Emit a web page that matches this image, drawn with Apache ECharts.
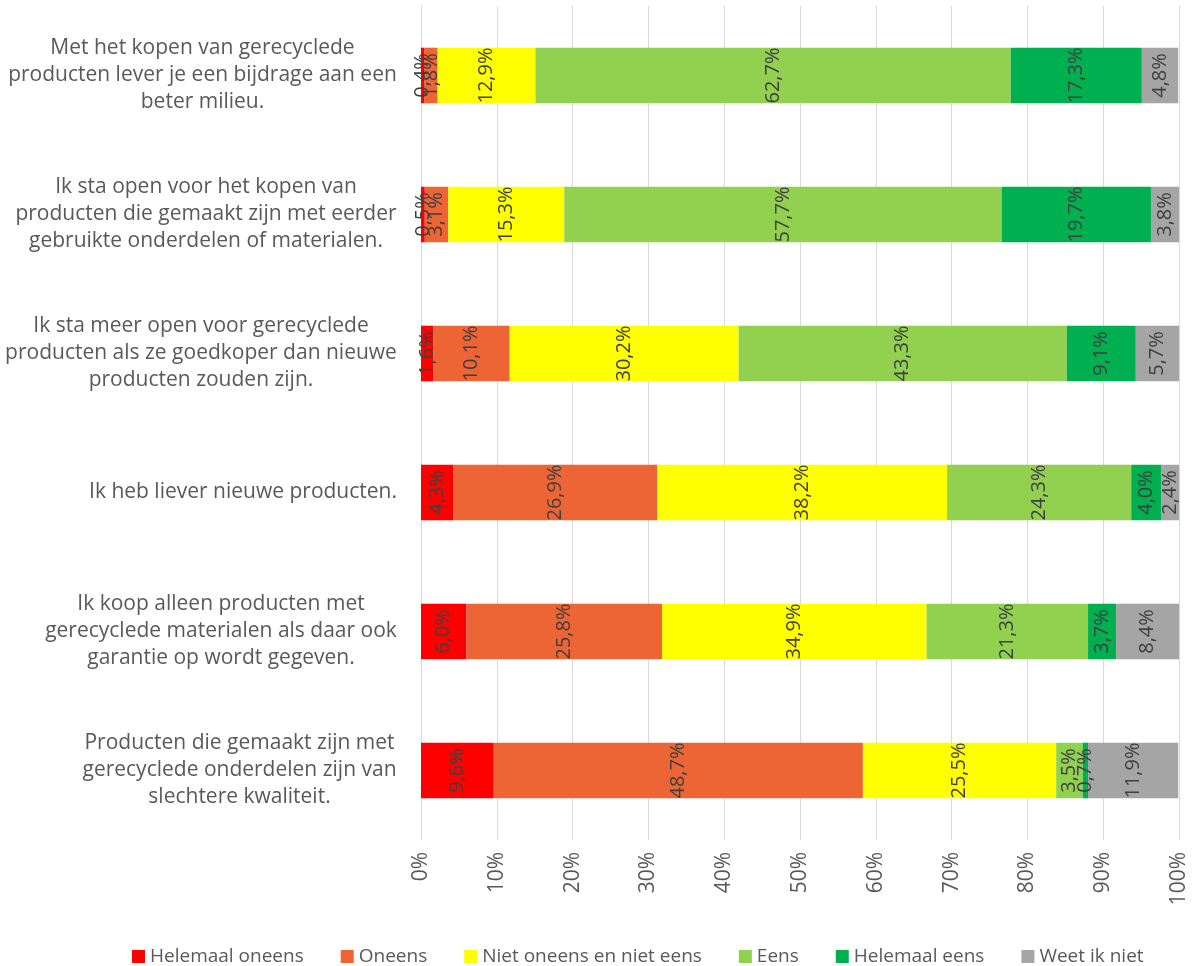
<!DOCTYPE html>
<html><head><meta charset="utf-8">
<script src="https://cdn.jsdelivr.net/npm/echarts@6/dist/echarts.min.js"></script>
<style>html,body{margin:0;padding:0;background:#fff}#c{width:1196px;height:966px}</style>
</head><body><div id="c"></div>
<script>
const categories = [
  "Met het kopen van gerecyclede\nproducten lever je een bijdrage aan een\nbeter milieu.",
  "Ik sta open voor het kopen van\nproducten die gemaakt zijn met eerder\ngebruikte onderdelen of materialen.",
  "Ik sta meer open voor gerecyclede\nproducten als ze goedkoper dan nieuwe\nproducten zouden zijn.",
  "Ik heb liever nieuwe producten.",
  "Ik koop alleen producten met\ngerecyclede materialen als daar ook\ngarantie op wordt gegeven.",
  "Producten die gemaakt zijn met\ngerecyclede onderdelen zijn van\nslechtere kwaliteit."
];
const seriesNames = ["Helemaal oneens","Oneens","Niet oneens en niet eens","Eens","Helemaal eens","Weet ik niet"];
const helemaalOneens = [0.4, 0.5, 1.6, 4.3, 6.0, 9.6];
const oneens = [1.8, 3.1, 10.1, 26.9, 25.8, 48.7];
const neutraal = [12.9, 15.3, 30.2, 38.2, 34.9, 25.5];
const eens = [62.7, 57.7, 43.3, 24.3, 21.3, 3.5];
const helemaalEens = [17.3, 19.7, 9.1, 4.0, 3.7, 0.7];
const weetNiet = [4.8, 3.8, 5.7, 2.4, 8.4, 11.9];
const tickLabels = ["0%","10%","20%","30%","40%","50%","60%","70%","80%","90%","100%"];
const colors = ["#FF0000","#ED6435","#FFFF00","#92D050","#00B050","#A5A5A5"];

const allData = [helemaalOneens, oneens, neutraal, eens, helemaalEens, weetNiet];
const FONT = 'Open Sans';
const CAT_SIZE = 21;
// measure each category label block so lines are centred inside a right-aligned block
const cv = document.createElement('canvas').getContext('2d');
cv.font = CAT_SIZE + 'px "' + FONT + '"';
const rich = {};
categories.forEach((c, i) => {
  const w = Math.max(...c.split('\n').map(l => cv.measureText(l).width));
  rich['c' + i] = {width: Math.ceil(w), align: 'center', fontSize: CAT_SIZE, lineHeight: 27, color: '#595959', fontFamily: FONT};
});
const catFormatter = (v, i) => v.split('\n').map(l => '{c' + i + '|' + l + '}').join('\n');

const chart = echarts.init(document.getElementById('c'));
const fmt = v => v.toFixed(1).replace('.', ',') + '%';
chart.setOption({
  animation: false,
  color: colors,
  textStyle: {fontFamily: FONT},
  grid: {left: 421, right: 17, top: 6, bottom: 126, containLabel: false},
  xAxis: {
    type: 'value', min: 0, max: 100, interval: 10,
    axisLabel: {rotate: 90, formatter: v => tickLabels[Math.round(v/10)], color: '#595959', fontSize: 21, margin: 12},
    splitLine: {lineStyle: {color: '#D9D9D9', width: 1}},
    axisLine: {show: false}, axisTick: {show: false}
  },
  yAxis: {
    type: 'category', data: categories, inverse: true,
    axisLine: {show: true, lineStyle: {color: '#D9D9D9'}},
    axisTick: {show: false},
    axisLabel: {align: 'right', margin: 24, formatter: catFormatter, rich: rich}
  },
  legend: {
    top: 942, left: 127,
    itemWidth: 13, itemHeight: 13, itemGap: 37,
    icon: 'rect',
    textStyle: {color: '#595959', fontSize: 19},
    data: seriesNames
  },
  series: seriesNames.map((n, i) => ({
    name: n, type: 'bar', stack: 'total', barWidth: '40%',
    data: allData[i],
    label: {show: true, position: 'inside', rotate: 90, color: '#404040', fontSize: 20,
      formatter: p => fmt(p.value)}
  }))
});
</script></body></html>
